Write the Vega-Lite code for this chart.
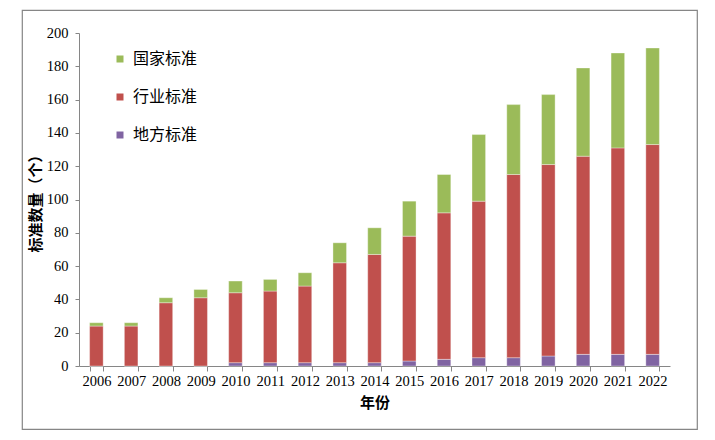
{
  "$schema": "https://vega.github.io/schema/vega-lite/v6.json",
  "autosize": "none",
  "width": 675,
  "height": 419,
  "padding": {"left": 22, "top": 10, "right": 18, "bottom": 11},
  "background": "white",
  "config": {
    "view": {"stroke": "#868686", "strokeWidth": 1.2},
    "axis": {"grid": false}
  },
  "data": {
    "values": [
      {"year": "2006", "series": "地方标准", "value": 0},
      {"year": "2006", "series": "行业标准", "value": 24},
      {"year": "2006", "series": "国家标准", "value": 2},
      {"year": "2007", "series": "地方标准", "value": 0},
      {"year": "2007", "series": "行业标准", "value": 24},
      {"year": "2007", "series": "国家标准", "value": 2},
      {"year": "2008", "series": "地方标准", "value": 0},
      {"year": "2008", "series": "行业标准", "value": 38},
      {"year": "2008", "series": "国家标准", "value": 3},
      {"year": "2009", "series": "地方标准", "value": 0},
      {"year": "2009", "series": "行业标准", "value": 41},
      {"year": "2009", "series": "国家标准", "value": 5},
      {"year": "2010", "series": "地方标准", "value": 2},
      {"year": "2010", "series": "行业标准", "value": 42},
      {"year": "2010", "series": "国家标准", "value": 7},
      {"year": "2011", "series": "地方标准", "value": 2},
      {"year": "2011", "series": "行业标准", "value": 43},
      {"year": "2011", "series": "国家标准", "value": 7},
      {"year": "2012", "series": "地方标准", "value": 2},
      {"year": "2012", "series": "行业标准", "value": 46},
      {"year": "2012", "series": "国家标准", "value": 8},
      {"year": "2013", "series": "地方标准", "value": 2},
      {"year": "2013", "series": "行业标准", "value": 60},
      {"year": "2013", "series": "国家标准", "value": 12},
      {"year": "2014", "series": "地方标准", "value": 2},
      {"year": "2014", "series": "行业标准", "value": 65},
      {"year": "2014", "series": "国家标准", "value": 16},
      {"year": "2015", "series": "地方标准", "value": 3},
      {"year": "2015", "series": "行业标准", "value": 75},
      {"year": "2015", "series": "国家标准", "value": 21},
      {"year": "2016", "series": "地方标准", "value": 4},
      {"year": "2016", "series": "行业标准", "value": 88},
      {"year": "2016", "series": "国家标准", "value": 23},
      {"year": "2017", "series": "地方标准", "value": 5},
      {"year": "2017", "series": "行业标准", "value": 94},
      {"year": "2017", "series": "国家标准", "value": 40},
      {"year": "2018", "series": "地方标准", "value": 5},
      {"year": "2018", "series": "行业标准", "value": 110},
      {"year": "2018", "series": "国家标准", "value": 42},
      {"year": "2019", "series": "地方标准", "value": 6},
      {"year": "2019", "series": "行业标准", "value": 115},
      {"year": "2019", "series": "国家标准", "value": 42},
      {"year": "2020", "series": "地方标准", "value": 7},
      {"year": "2020", "series": "行业标准", "value": 119},
      {"year": "2020", "series": "国家标准", "value": 53},
      {"year": "2021", "series": "地方标准", "value": 7},
      {"year": "2021", "series": "行业标准", "value": 124},
      {"year": "2021", "series": "国家标准", "value": 57},
      {"year": "2022", "series": "地方标准", "value": 7},
      {"year": "2022", "series": "行业标准", "value": 126},
      {"year": "2022", "series": "国家标准", "value": 58}
    ]
  },
  "transform": [
    {"calculate": "indexof(['地方标准','行业标准','国家标准'], datum.series)", "as": "stackOrder"}
  ],
  "mark": {"type": "bar", "stroke": "#ffffff", "strokeOpacity": 0.35, "strokeWidth": 1},
  "encoding": {
    "x": {
      "field": "year",
      "type": "ordinal",
      "scale": {"range": [57, 648], "paddingInner": 0.61, "paddingOuter": 0.305},
      "axis": {
        "title": "年份",
        "titleFont": "Noto Sans CJK SC",
        "titleFontSize": 15,
        "titleFontWeight": "bold",
        "titleColor": "#000000",
        "titlePadding": 8,
        "offset": -63,
        "labelAngle": 0,
        "labelFont": "Liberation Serif",
        "labelFontSize": 14.5,
        "labelColor": "#000000",
        "labelPadding": 3,
        "tickBand": "extent",
        "tickSize": 5,
        "tickColor": "#868686",
        "domainColor": "#868686"
      }
    },
    "y": {
      "field": "value",
      "type": "quantitative",
      "aggregate": "sum",
      "stack": "zero",
      "scale": {"domain": [0, 200], "range": [356, 23], "nice": false},
      "axis": {
        "title": "标准数量（个）",
        "titleFont": "Noto Sans CJK SC",
        "titleFontSize": 15,
        "titleFontWeight": "bold",
        "titleColor": "#000000",
        "titleX": -44,
        "titleBaseline": "middle",
        "offset": -57,
        "values": [0, 20, 40, 60, 80, 100, 120, 140, 160, 180, 200],
        "labelFont": "Liberation Serif",
        "labelFontSize": 14.5,
        "labelColor": "#000000",
        "labelPadding": 7,
        "tickSize": 4,
        "tickColor": "#868686",
        "domainColor": "#868686"
      }
    },
    "color": {
      "field": "series",
      "type": "nominal",
      "scale": {
        "domain": ["国家标准", "行业标准", "地方标准"],
        "range": ["#9BBB59", "#C0504D", "#8064A2"]
      },
      "legend": {
        "title": null,
        "orient": "none",
        "legendX": 90,
        "legendY": 41,
        "symbolType": "square",
        "symbolSize": 49,
        "symbolStrokeWidth": 0,
        "labelFont": "Noto Sans CJK SC",
        "labelFontSize": 16,
        "labelColor": "#000000",
        "labelOffset": 5,
        "rowPadding": 22
      }
    },
    "order": {"field": "stackOrder", "type": "quantitative", "sort": "ascending"}
  }
}
